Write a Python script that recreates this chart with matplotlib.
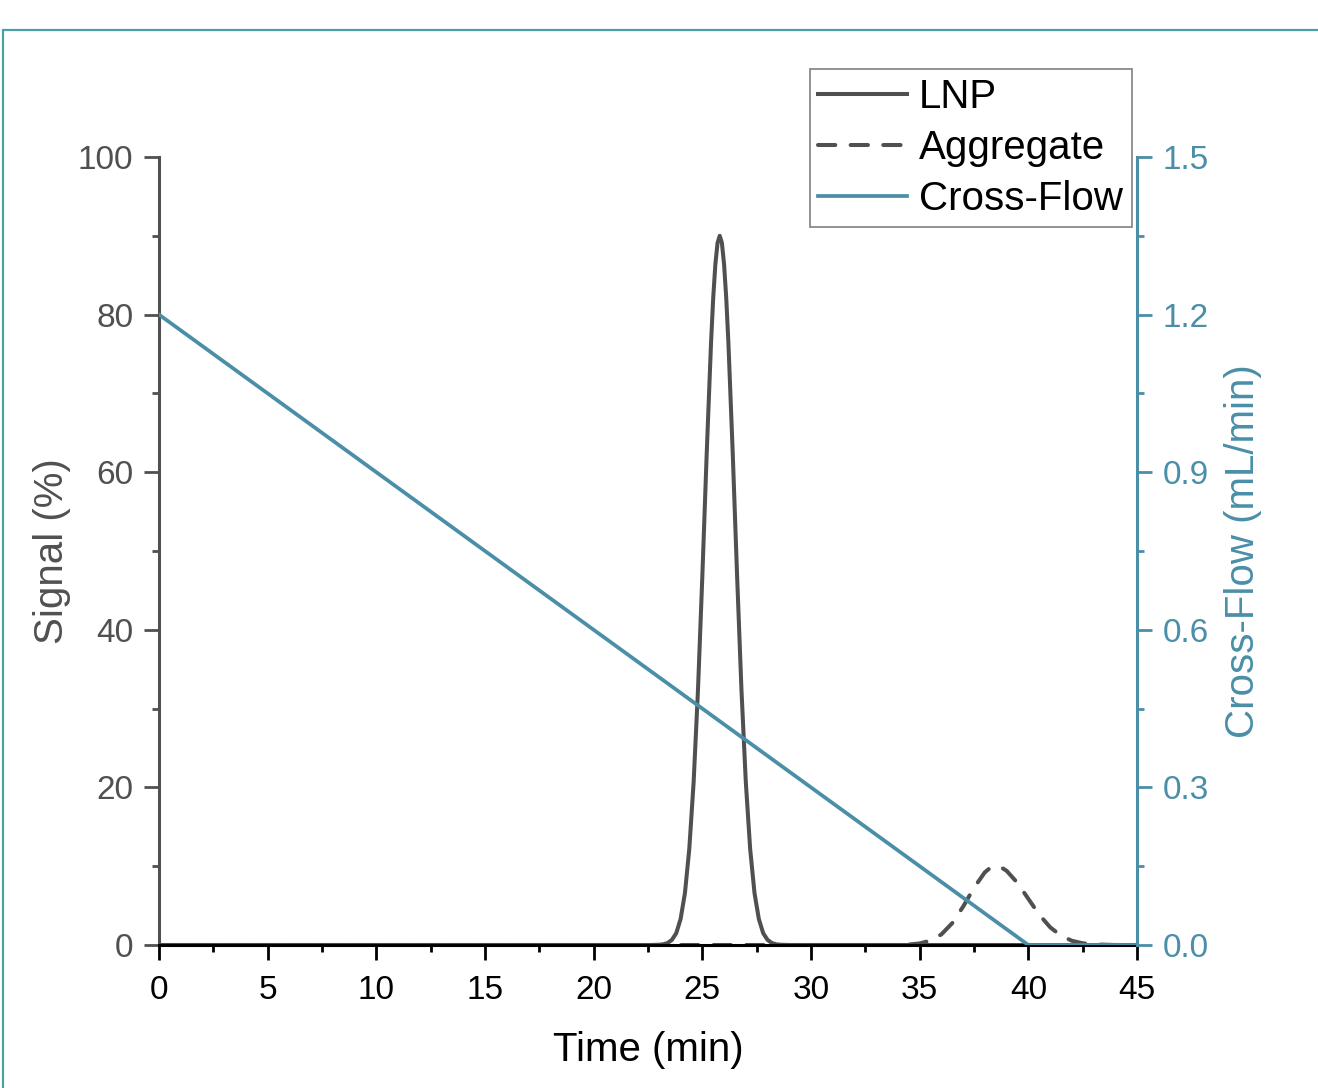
import matplotlib
matplotlib.use("Agg")
import matplotlib.pyplot as plt
from matplotlib.ticker import MultipleLocator, FormatStrFormatter
from matplotlib.patches import Rectangle

plt.rcParams['font.family'] = ['Liberation Sans', 'DejaVu Sans']

# data
time_lnp = [0, 22.6, 23.0, 23.2, 23.4, 23.6, 23.8, 24.0, 24.2, 24.4, 24.6, 24.8,
            25.0, 25.2, 25.4, 25.5, 25.6, 25.7, 25.8, 25.9, 26.0, 26.1, 26.2,
            26.4, 26.6, 26.8, 27.0, 27.2, 27.4, 27.6, 27.8, 28.0, 28.2, 28.4,
            28.6, 29.0, 45]
signal_lnp = [0, 0, 0.03, 0.09, 0.25, 0.65, 1.5, 3.3, 6.6, 12.2, 20.7, 32.4,
              46.8, 62.3, 76.4, 82.1, 86.4, 89.1, 90.0, 89.1, 86.4, 82.1, 76.4,
              62.3, 46.8, 32.4, 20.7, 12.2, 6.6, 3.3, 1.5, 0.65, 0.25, 0.09,
              0.03, 0, 0]

time_agg = [0, 34.0, 34.5, 35.0, 35.5, 36.0, 36.5, 37.0, 37.5, 38.0, 38.25, 38.5,
            38.75, 39.0, 39.5, 40.0, 40.5, 41.0, 41.5, 42.0, 42.5, 43.0, 44.0, 45]
signal_agg = [0, 0, 0.06, 0.2, 0.56, 1.35, 2.78, 4.87, 7.26, 9.23, 9.8, 10.0,
              9.85, 9.42, 7.88, 5.86, 3.86, 2.26, 1.18, 0.54, 0.22, 0.08, 0, 0]

time_flow = [0, 40, 45]
cross_flow = [1.2, 0.0, 0.0]

gray = '#505050'
teal = '#4a8ea8'

fig = plt.figure(figsize=(13.18, 10.88), dpi=100)
ax = fig.add_axes([159/1318, 1 - 945/1088, (1137-159)/1318, (945-157)/1088])
ax2 = ax.twinx()

l1, = ax.plot(time_lnp, signal_lnp, color=gray, lw=2.9, label='LNP')
l2, = ax.plot(time_agg, signal_agg, color=gray, lw=2.9, dashes=(4.3, 3.8),
              dash_capstyle='round', label='Aggregate')
l3, = ax2.plot(time_flow, cross_flow, color=teal, lw=2.7, label='Cross-Flow')

ax.set_xlim(0, 45)
ax.set_ylim(0, 100)
ax2.set_ylim(0, 1.5)

ax.xaxis.set_major_locator(MultipleLocator(5))
ax.xaxis.set_minor_locator(MultipleLocator(2.5))
ax.yaxis.set_major_locator(MultipleLocator(20))
ax.yaxis.set_minor_locator(MultipleLocator(10))
ax2.yaxis.set_major_locator(MultipleLocator(0.3))
ax2.yaxis.set_minor_locator(MultipleLocator(0.15))
ax2.yaxis.set_major_formatter(FormatStrFormatter('%.1f'))

for a in (ax, ax2):
    a.spines['top'].set_visible(False)
ax.spines['right'].set_visible(False)
ax2.spines['left'].set_visible(False)
ax2.spines['bottom'].set_visible(False)
ax.spines['left'].set_color(gray)
ax.spines['left'].set_linewidth(2.2)
ax.spines['bottom'].set_color('black')
ax.spines['bottom'].set_linewidth(2.2)
ax2.spines['right'].set_color(teal)
ax2.spines['right'].set_linewidth(2.2)

ax.tick_params(axis='x', which='major', direction='out', length=10.5, width=2,
               colors='black', labelsize=24, pad=11)
ax.tick_params(axis='x', which='minor', direction='out', length=5, width=2, colors='black')
ax.tick_params(axis='y', which='major', direction='out', length=10.5, width=2,
               colors=gray, labelsize=24, pad=8)
ax.tick_params(axis='y', which='minor', direction='out', length=5, width=2, colors=gray)
ax2.tick_params(axis='y', which='major', direction='out', length=10.5, width=2,
                colors=teal, labelsize=24, pad=8)
ax2.tick_params(axis='y', which='minor', direction='out', length=5, width=2, colors=teal)

ax.set_xlabel('Time (min)', fontsize=29, color='black', labelpad=18)
ax.set_ylabel('Signal (%)', fontsize=29, color=gray, labelpad=5)
ax2.set_ylabel('Cross-Flow (mL/min)', fontsize=29, color=teal, labelpad=11)

leg = fig.legend(handles=[l1, l2, l3], loc='upper right',
                 bbox_to_anchor=(1132/1318, 1 - 69/1088), bbox_transform=fig.transFigure,
                 fontsize=29, frameon=True, fancybox=False, framealpha=1,
                 edgecolor='#808080', borderpad=0.22, labelspacing=0.32,
                 handlelength=2.2, handletextpad=0.3, borderaxespad=0)
leg.get_frame().set_linewidth(1.2)

# teal frame around the figure
fig.patches.append(Rectangle((3/1318, -0.05), 1.1, 1 - 30/1088 + 0.05,
                             transform=fig.transFigure, fill=False,
                             edgecolor='#4aa0a4', lw=1.6, clip_on=False))

fig.savefig('out.png', dpi=100)
